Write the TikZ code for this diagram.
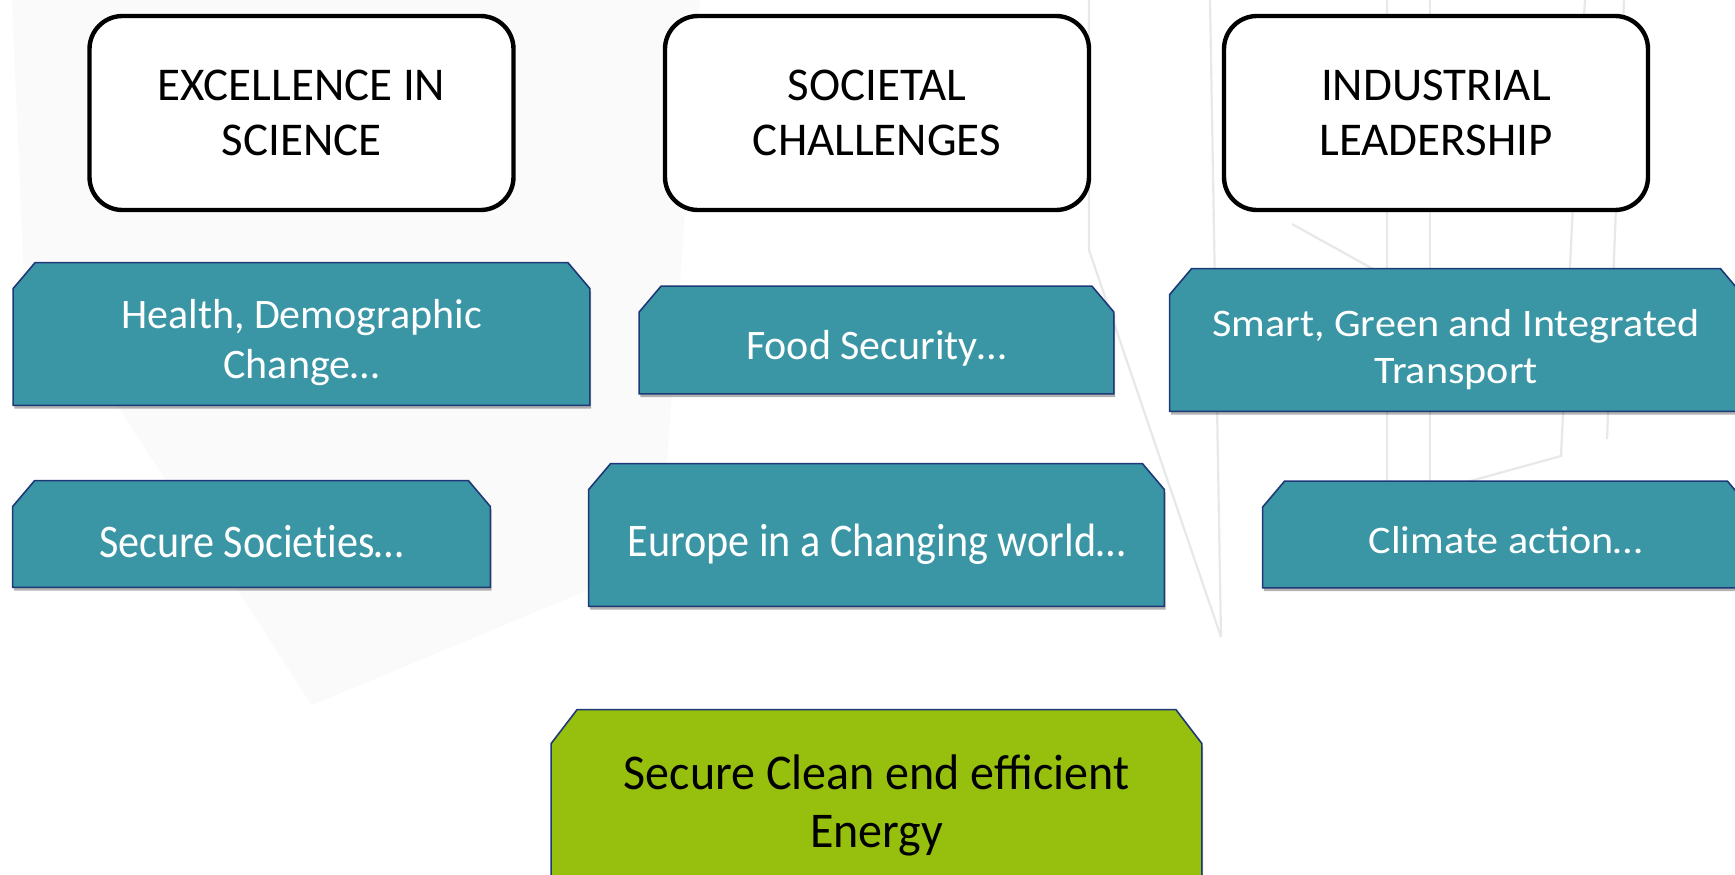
\documentclass[tikz,border=0pt]{standalone}
\usepackage{fontspec}
\setmainfont{Carlito}
\newfontfamily\narrowfont[FakeStretch=0.9]{Carlito}
\newfontfamily\widefont[FakeStretch=1.08]{Carlito}
\newfontfamily\energyfont[FakeStretch=0.96]{Carlito}
\usetikzlibrary{positioning,shadows,backgrounds}

\definecolor{pillarteal}{RGB}{58,150,165}
\definecolor{pillaredge}{RGB}{31,56,120}
\definecolor{energygreen}{RGB}{151,191,14}
\definecolor{skelgray}{RGB}{232,232,232}
\definecolor{hazegray}{RGB}{250,250,250}

\tikzset{
  pillar/.style={draw=black, line width=2.2pt, rounded corners=16.5pt, fill=white,
    minimum width=212pt, minimum height=97pt, align=center,
    font=\fontsize{23.5pt}{27.5pt}\selectfont},
  topic/.style={align=center, text=white, inner sep=0pt,
    font=\fontsize{21pt}{25pt}\selectfont},
  topicframe/.style={fill=pillarteal, draw=pillaredge, line width=0.8pt,
    drop shadow={shadow xshift=0.6pt, shadow yshift=-1.6pt, opacity=0.3, fill=black}},
  skel/.style={draw=skelgray, line width=1.1pt}
}

\begin{document}
\begin{tikzpicture}[x=0.5pt, y=-0.5pt]
    \useasboundingbox (0,0) rectangle (1735,874);
    \clip (0,0) rectangle (1735,874);

    % the three pillars
    \node[pillar] (excl) at (301.5,113) {EXCELLENCE IN\\SCIENCE};
    \node[pillar] (soci) at (877,113) {SOCIETAL\\CHALLENGES};
    \node[pillar] (indu) at (1436,113) {INDUSTRIAL\\LEADERSHIP};

    % challenges (text sits 8px below the middle of its frame)
    \node[topic, minimum width=288pt, minimum height=71pt] (hlth) at (301.5,343) {Health, Demographic\\Change\dots};
    \node[topic, minimum width=237pt, minimum height=53.5pt] (food) at (876.5,348) {Food Security\dots};
    \node[topic, minimum width=286pt, minimum height=71pt, font=\widefont\fontsize{19.5pt}{23.5pt}\selectfont] (trns) at (1456,350) {Smart, Green and Integrated\\Transport};
    \node[topic, minimum width=238.5pt, minimum height=53pt, font=\narrowfont\fontsize{23.4pt}{27pt}\selectfont] (secs) at (251.5,542) {Secure Societ\kern0pt{}ies\dots};
    \node[topic, minimum width=287.5pt, minimum height=71pt, font=\narrowfont\fontsize{23.4pt}{27pt}\selectfont] (euro) at (876.5,544) {Europe in a Changing world\dots};
    \node[topic, minimum width=243pt, minimum height=53pt, font=\widefont\fontsize{19.5pt}{23.5pt}\selectfont] (clim) at (1506,540.5) {Climate action\dots};
    \node[topic, text=black, minimum width=325pt, minimum height=95pt, font=\energyfont\fontsize{25pt}{29pt}\selectfont] (enrg) at (876.5,805) {Secure Clean end efficient\\Energy};

    \begin{scope}[on background layer]
        \fill[white] (0,0) rectangle (1735,874);
        % faint backdrop
        \fill[hazegray] (12,0) -- (700,0) -- (660,560) -- (312,705) -- (120,410) -- (25,300) -- cycle;
        \draw[skel] (1089,0) -- (1089,250) -- (1221,637);
        \draw[skel] (1210,0) -- (1221,637);
        \draw[skel] (1387,0) -- (1387,504) -- (1561,456) -- (1572,224) -- (1585,0);
        \draw[skel] (1430,0) -- (1430,504);
        \draw[skel] (1292,224) -- (1400,284);
        \draw[skel] (1624,0) -- (1607,439);
        % chamfered boxes, lifted back over their text
        \foreach \n/\d in {hlth/4.5pt, food/4pt, trns/5pt, secs/4pt, euro/4.5pt, clim/3pt}
            \draw[topicframe] ([yshift=\d-13pt]\n.north west) -- ([xshift=11pt, yshift=\d]\n.north west)
                -- ([xshift=-11pt, yshift=\d]\n.north east) -- ([yshift=\d-13pt]\n.north east)
                -- ([yshift=\d]\n.south east) -- ([yshift=\d]\n.south west) -- cycle;
        \draw[topicframe, fill=energygreen] ([yshift=-17pt]enrg.north west) -- ([xshift=13pt]enrg.north west)
            -- ([xshift=-13pt]enrg.north east) -- ([yshift=-17pt]enrg.north east)
            -- (enrg.south east) -- (enrg.south west) -- cycle;
    \end{scope}
\end{tikzpicture}
\end{document}
